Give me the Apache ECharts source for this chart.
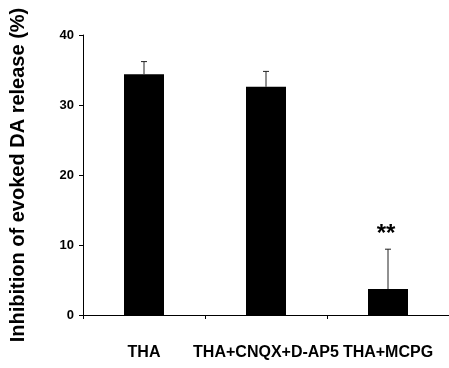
<!DOCTYPE html>
<html>
<head>
<meta charset="utf-8">
<script src="https://cdn.jsdelivr.net/npm/echarts@6/dist/echarts.min.js"></script>
<style>
  html, body { margin: 0; padding: 0; background: #fff; }
  #chart { width: 449px; height: 368px; }
</style>
</head>
<body>
<div id="chart"></div>
<script>
// 数据
const categories = ['THA', 'THA+CNQX+D-AP5', 'THA+MCPG'];
const inhibition = [34.4, 32.6, 3.7];
const errUp = [1.8, 2.2, 5.7];
const signif = ['', '', '**'];
const yTicks = { min: 0, max: 40, interval: 10 };

const chart = echarts.init(document.getElementById('chart'));

const font = 'Liberation Sans, Arial, sans-serif';

const option = {
    animation: false,
    grid: { left: 76, right: 0, top: 35, bottom: 53 },
    xAxis: {
        type: 'category',
        data: categories,
        axisLine: { lineStyle: { color: '#000', width: 1 } },
        axisTick: { show: true, length: 4, lineStyle: { color: '#000' } },
        axisLabel: {
            color: '#000',
            fontFamily: font,
            fontWeight: 'bold',
            fontSize: 16,
            margin: 30,
            interval: 0
        }
    },
    yAxis: {
        type: 'value',
        min: yTicks.min,
        max: yTicks.max,
        interval: yTicks.interval,
        name: 'Inhibition of evoked DA release (%)',
        nameLocation: 'middle',
        nameGap: 55,
        nameTextStyle: {
            color: '#000',
            fontFamily: font,
            fontWeight: 'bold',
            fontSize: 20
        },
        axisLine: { show: true, lineStyle: { color: '#000', width: 1 } },
        axisTick: { show: true, length: 4, lineStyle: { color: '#000' } },
        splitLine: { show: false },
        axisLabel: {
            color: '#000',
            fontFamily: font,
            fontWeight: 'bold',
            fontSize: 13,
            margin: 9
        }
    },
    series: [
        {
            type: 'bar',
            data: inhibition,
            barWidth: 40,
            itemStyle: { color: '#000' }
        },
        {
            // 误差线（仅上侧）和显著性标记
            type: 'custom',
            data: inhibition.map((v, i) => [i, v, v + errUp[i]]),
            z: 5,
            renderItem: function (params, api) {
                const base = api.coord([api.value(0), api.value(1)]);
                const top = api.coord([api.value(0), api.value(2)]);
                const x = base[0];
                const children = [
                    {
                        type: 'line',
                        shape: { x1: x, y1: base[1], x2: x, y2: top[1] },
                        style: { stroke: '#222', lineWidth: 1 }
                    },
                    {
                        type: 'line',
                        shape: { x1: x - 3, y1: top[1], x2: x + 3, y2: top[1] },
                        style: { stroke: '#222', lineWidth: 1 }
                    }
                ];
                const mark = signif[params.dataIndex];
                if (mark) {
                    children.push({
                        type: 'text',
                        style: {
                            text: mark,
                            x: x - 2,
                            y: top[1] - 3,
                            align: 'center',
                            verticalAlign: 'bottom',
                            fill: '#000',
                            font: 'bold 24px ' + font
                        }
                    });
                }
                return { type: 'group', children: children };
            }
        }
    ]
};

chart.setOption(option);
</script>
</body>
</html>
